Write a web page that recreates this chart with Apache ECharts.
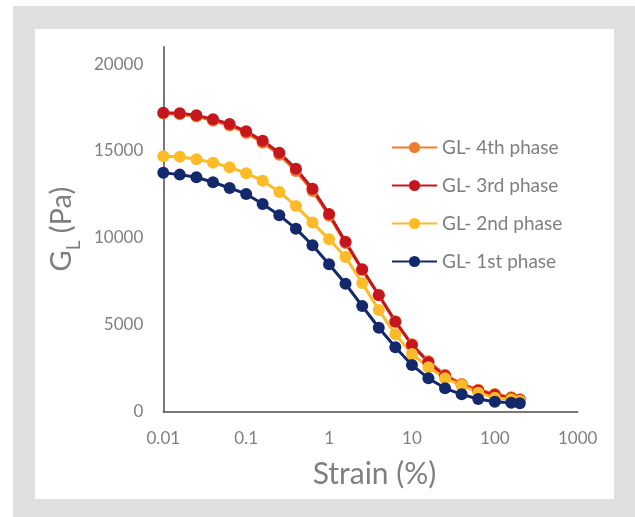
<!DOCTYPE html>
<html>
<head>
<meta charset="utf-8">
<script src="https://cdn.jsdelivr.net/npm/echarts@6/dist/echarts.min.js"></script>
<style>
  html, body { margin: 0; padding: 0; background: #fff; }
  #chart { width: 635px; height: 517px; }
</style>
</head>
<body>
<div id="chart"></div>
<script>
// strain (%) steps, 5 per decade then 158 and 200
const strain = [0.01, 0.0158, 0.0251, 0.0398, 0.0631, 0.1, 0.158, 0.251, 0.398, 0.631,
  1, 1.58, 2.51, 3.98, 6.31, 10, 15.8, 25.1, 39.8, 63.1, 100, 158, 200];

// G_L (Pa) per phase
const phase4 = [17150, 17110, 16990, 16740, 16460, 16040, 15480, 14780, 13850, 12700,
  11280, 9700, 8150, 6700, 5200, 3880, 2900, 2120, 1600, 1270, 1020, 830, 720];
const phase3 = [17200, 17170, 17050, 16825, 16550, 16130, 15590, 14900, 13980, 12830,
  11370, 9780, 8200, 6715, 5180, 3840, 2840, 2055, 1535, 1210, 960, 770, 670];
const phase2 = [14700, 14670, 14520, 14330, 14060, 13720, 13290, 12640, 11840, 10880,
  9920, 8900, 7400, 5850, 4450, 3320, 2555, 1920, 1535, 1095, 805, 715, 635];
const phase1 = [13750, 13640, 13490, 13200, 12870, 12530, 11950, 11300, 10530, 9575,
  8480, 7360, 6080, 4830, 3705, 2690, 1920, 1345, 1000, 730, 575, 520, 485];

const seriesNames = ['GL- 4th phase', 'GL- 3rd phase', 'GL- 2nd phase', 'GL- 1st phase'];
const seriesColors = ['#ED7D31', '#C5161E', '#FDBB27', '#13296B'];
const seriesData = [phase4, phase3, phase2, phase1];

const font = 'Lato, "Open Sans", sans-serif';

let chart = echarts.init(document.getElementById('chart'));

let option = {
  animation: false,
  graphic: [
    { type: 'rect', z: -10, silent: true, shape: { x: 13, y: 6, width: 622, height: 511 }, style: { fill: '#dfe0e2' } },
    { type: 'rect', z: -9, silent: true, shape: { x: 35, y: 29, width: 579, height: 470 }, style: { fill: '#ffffff' } }
  ],
  grid: { left: 163.3, right: 57.3, top: 46.7, bottom: 105.3 },
  legend: {
    orient: 'vertical',
    left: 386,
    top: 133,
    itemWidth: 45,
    itemHeight: 14,
    itemGap: 19,
    data: seriesNames,
    textStyle: { color: '#7f7f7f', fontSize: 19, fontFamily: font, lineHeight: 18 }
  },
  xAxis: {
    type: 'log',
    logBase: 10,
    min: 0.01,
    max: 1000,
    name: 'Strain (%)',
    nameLocation: 'middle',
    nameGap: 48,
    nameTextStyle: { color: '#7f7f7f', fontSize: 30, fontFamily: font, padding: [0, 0, 0, 8] },
    axisLine: { lineStyle: { color: '#4d4d4d', width: 1.5 } },
    axisTick: { show: false },
    splitLine: { show: false },
    minorTick: { show: false },
    axisLabel: { color: '#7f7f7f', fontSize: 17, fontFamily: font, margin: 18, formatter: v => String(v) }
  },
  yAxis: {
    type: 'value',
    min: 0,
    max: 21000,
    interval: 5000,
    name: '{a|G}{b|L}{a| (Pa)}',
    nameLocation: 'middle',
    nameGap: 82,
    nameTextStyle: {
      rich: {
        a: { color: '#7f7f7f', fontSize: 29, fontFamily: font, lineHeight: 32, verticalAlign: 'bottom' },
        b: { color: '#7f7f7f', fontSize: 19, fontFamily: font, lineHeight: 32, verticalAlign: 'bottom', padding: [0, 0, -7, 0] }
      }
    },
    axisLine: { show: true, lineStyle: { color: '#4d4d4d', width: 1.5 } },
    axisTick: { show: false },
    splitLine: { show: false },
    axisLabel: { color: '#7f7f7f', fontSize: 17, fontFamily: font, margin: 20, showMaxLabel: false, formatter: v => String(v) }
  },
  series: seriesNames.map((name, i) => ({
    name: name,
    type: 'line',
    data: strain.map((s, j) => [s, seriesData[i][j]]),
    symbol: 'circle',
    symbolSize: 12,
    color: seriesColors[i],
    lineStyle: { width: 3 }
  }))
};

chart.setOption(option);
</script>
</body>
</html>
